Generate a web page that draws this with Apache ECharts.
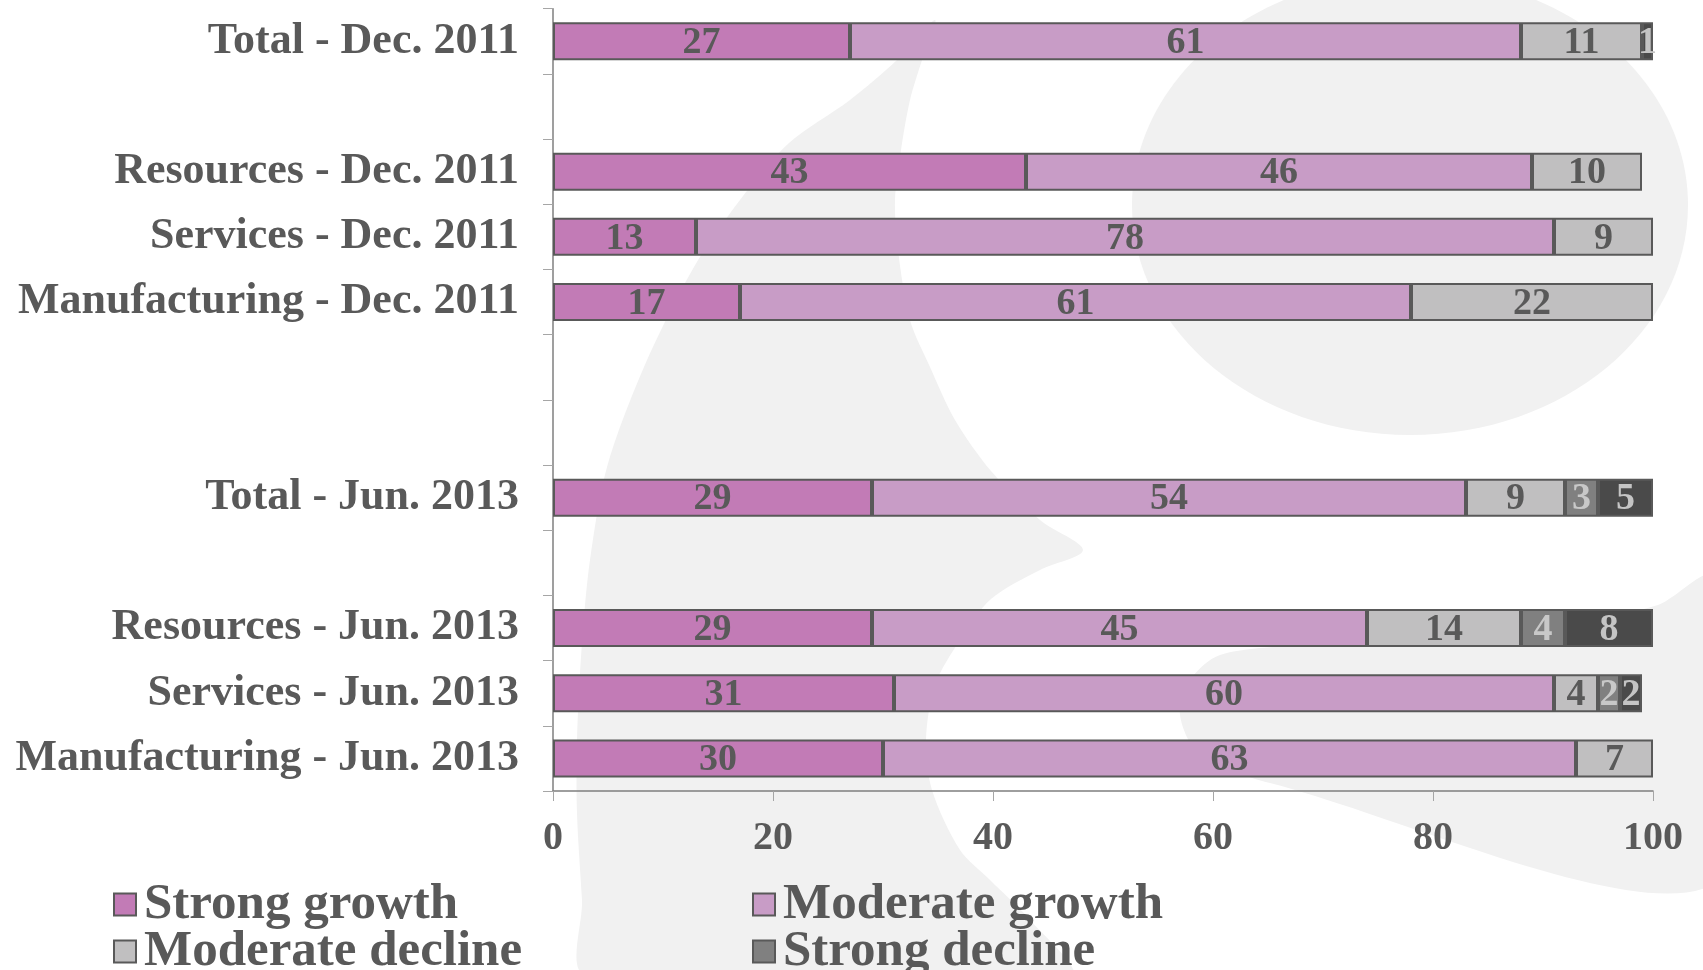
<!DOCTYPE html>
<html>
<head>
<meta charset="utf-8">
<script src="https://cdn.jsdelivr.net/npm/echarts@6/dist/echarts.min.js"></script>
<style>
html,body{margin:0;padding:0;background:#fff;}
#chart{width:1703px;height:970px;}
</style>
</head>
<body>
<div id="chart"></div>
<script>
// ---- data (top to bottom) ----
var categories = ['Total - Dec. 2011', '', 'Resources - Dec. 2011', 'Services - Dec. 2011', 'Manufacturing - Dec. 2011', '', '', 'Total - Jun. 2013', '', 'Resources - Jun. 2013', 'Services - Jun. 2013', 'Manufacturing - Jun. 2013'];
var seriesNames = ['Strong growth', 'Moderate growth', 'Moderate decline', 'Strong decline', 'Very strong decline'];
var strongGrowth      = [27, null, 43, 13, 17, null, null, 29, null, 29, 31, 30];
var moderateGrowth    = [61, null, 46, 78, 61, null, null, 54, null, 45, 60, 63];
var moderateDecline   = [11, null, 10,  9, 22, null, null,  9, null, 14,  4,  7];
var strongDecline     = [null, null, null, null, null, null, null, 3, null, 4, 2, null];
var veryStrongDecline = [1, null, null, null, null, null, null, 5, null, 8, 2, null];
var xTicks = [0, 20, 40, 60, 80, 100];

var FONT = '"Liberation Serif", "DejaVu Serif", serif';
var TXT = '#595959';
var colors = ['#c27bb6', '#c89cc6', '#c0bfc0', '#808080', '#4a4a4a'];
var labelColors = [TXT, TXT, TXT, '#c8c8c8', '#c4c4c4'];
var values = [strongGrowth, moderateGrowth, moderateDecline, strongDecline, veryStrongDecline];

var axisCats = categories.map(function (c, i) { return c || new Array(i + 2).join(' '); });

var series = values.map(function (arr, k) {
  return {
    name: seriesNames[k],
    type: 'bar',
    stack: 'total',
    barWidth: 38,
    data: arr,
    itemStyle: { color: colors[k], borderColor: '#595959', borderWidth: 2 },
    label: {
      show: true,
      position: 'inside',
      offset: [0, 2],
      formatter: '{c}',
      color: labelColors[k],
      fontFamily: FONT,
      fontWeight: 'bold',
      fontSize: 38
    },
    emphasis: { disabled: true }
  };
});

var chart = echarts.init(document.getElementById('chart'), null, { renderer: 'canvas' });

var legendText = { color: TXT, fontFamily: FONT, fontWeight: 'bold', fontSize: 51, lineHeight: 47, padding: [0, 0, 0, 3] };
function legendItem(name, left, top) {
  return {
    orient: 'horizontal', left: left, top: top, padding: 0, itemWidth: 22, itemHeight: 22,
    icon: 'rect', data: [name], textStyle: legendText,
    itemStyle: { borderColor: '#595959', borderWidth: 2 }, selectedMode: false
  };
}

chart.setOption({
  animation: false,
  backgroundColor: '#ffffff',
  graphic: [
    { type: 'ellipse', silent: true, z: -10, shape: { cx: 1410, cy: 205, rx: 278, ry: 230 }, style: { fill: '#f1f1f1' } },
    { type: 'polygon', silent: true, z: -10, shape: { smooth: 0.3, points: [
      [935, 20], [897, 60], [850, 100], [789, 143], [740, 200], [694, 267], [644, 367], [607, 467], [590, 560],
      [582, 642], [577, 740], [577, 813], [582, 900], [586, 975], [1070, 975], [1030, 920], [990, 880],
      [960, 850], [932, 790], [926, 740], [935, 685], [960, 640], [991, 599], [1040, 570], [1083, 550],
      [1040, 520], [991, 471], [955, 420], [930, 367], [910, 320], [898, 250], [895, 200], [901, 150],
      [910, 100], [922, 60]
    ] }, style: { fill: '#f1f1f1' } },
    { type: 'polygon', silent: true, z: -10, shape: { smooth: 0.3, points: [
      [1710, 578], [1658, 605], [1560, 625], [1420, 638], [1300, 645], [1220, 655], [1190, 680],
      [1180, 715], [1200, 755], [1270, 783], [1710, 886]
    ] }, style: { fill: '#f1f1f1' } }
  ],
  grid: { left: 553, right: 50, top: 8.7, bottom: 179, containLabel: false },
  legend: [
    legendItem(seriesNames[0], 113, 879),
    legendItem(seriesNames[1], 752, 879),
    legendItem(seriesNames[2], 113, 926),
    legendItem(seriesNames[3], 752, 926)
  ],
  xAxis: {
    type: 'value',
    min: xTicks[0],
    max: xTicks[xTicks.length - 1],
    interval: xTicks[1] - xTicks[0],
    axisLine: { show: true, lineStyle: { color: '#7f7f7f', width: 1.5 } },
    axisTick: { show: true, length: 10, lineStyle: { color: '#a6a6a6', width: 1 } },
    splitLine: { show: false },
    axisLabel: { color: TXT, fontFamily: FONT, fontWeight: 'bold', fontSize: 40, margin: 28 }
  },
  yAxis: {
    type: 'category',
    inverse: true,
    data: axisCats,
    axisLine: { show: true, lineStyle: { color: '#7f7f7f', width: 1.5 } },
    axisTick: { show: true, length: 10, lineStyle: { color: '#a6a6a6', width: 1 } },
    axisLabel: { color: TXT, fontFamily: FONT, fontWeight: 'bold', fontSize: 44, margin: 34 }
  },
  series: series
});
</script>
</body>
</html>
